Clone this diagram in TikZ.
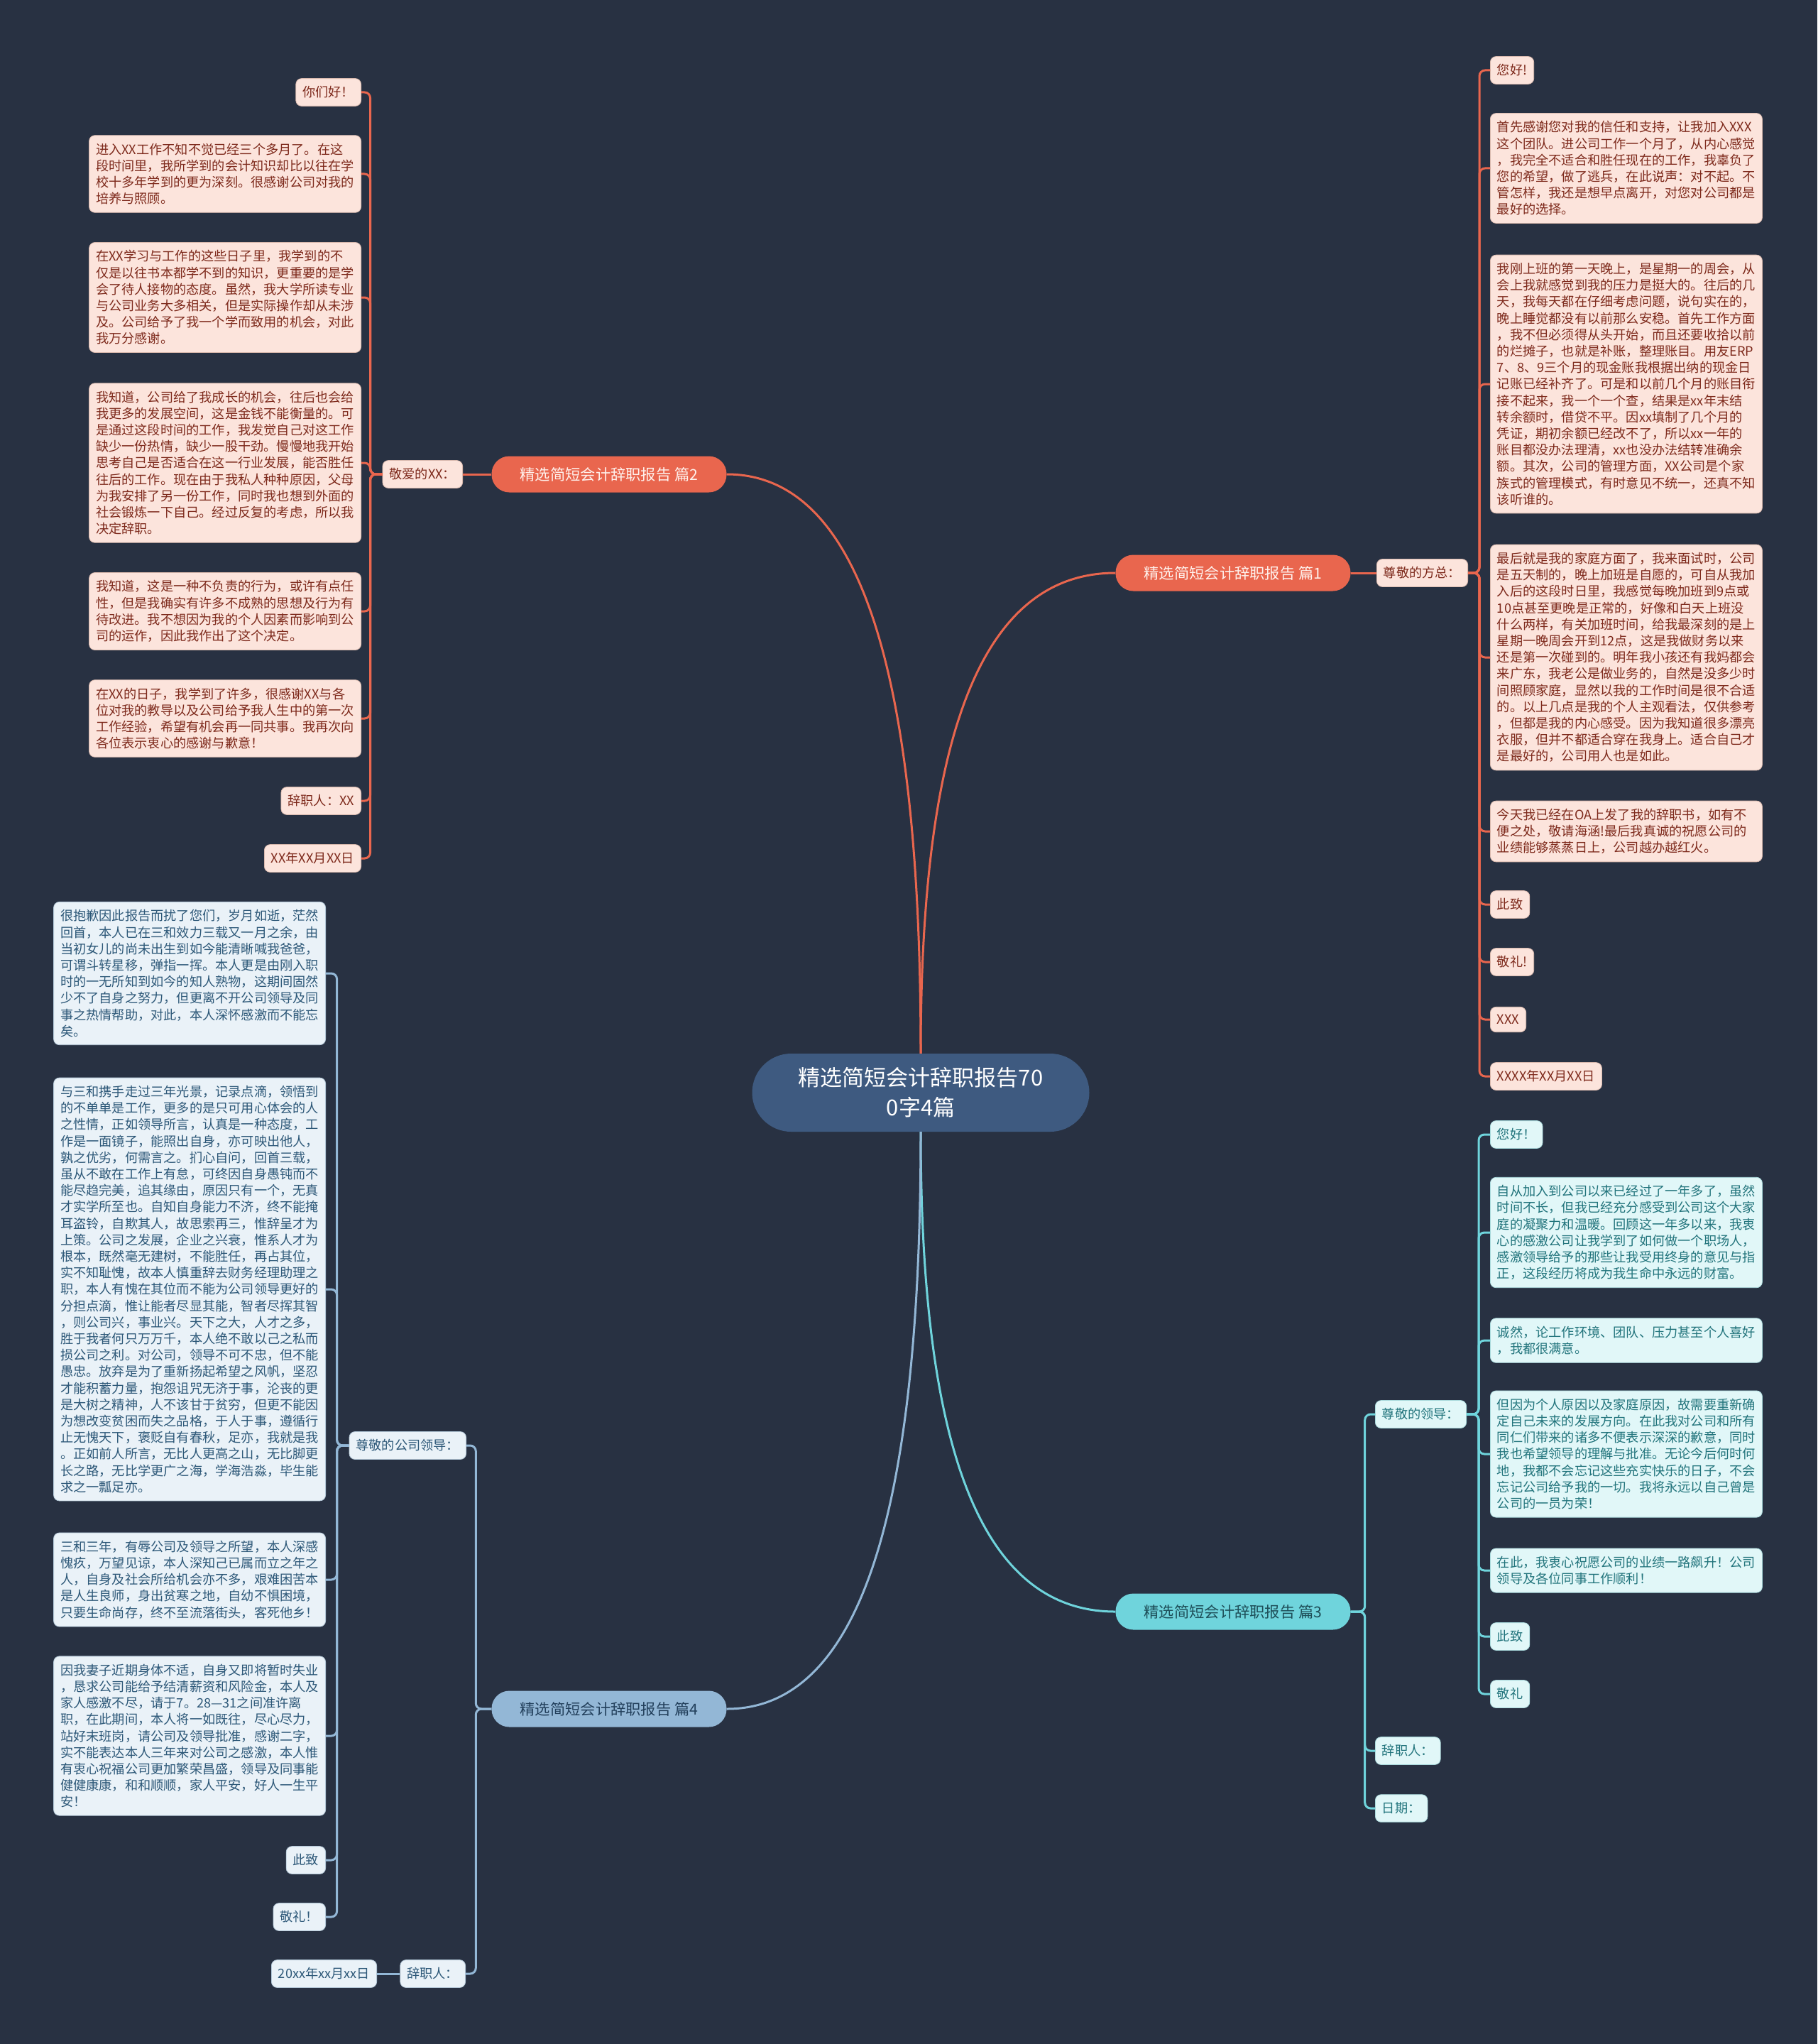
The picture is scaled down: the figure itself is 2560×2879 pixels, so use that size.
\documentclass[tikz,border=0pt]{standalone}
\usepackage{fontspec}
\newfontfamily\cjk{Noto Sans CJK SC}
\usetikzlibrary{calc}
\definecolor{bgc}{HTML}{283142}
\definecolor{rootc}{HTML}{3E5A80}
\definecolor{redc}{HTML}{E9664E}
\definecolor{redtop}{HTML}{FFF1EC}
\definecolor{redleaf}{HTML}{FCE4DC}
\definecolor{redtext}{HTML}{7E2A1C}
\definecolor{redline}{HTML}{D9B9AE}
\definecolor{cyanc}{HTML}{6FD4DC}
\definecolor{cyantop}{HTML}{1E4E58}
\definecolor{cyanleaf}{HTML}{E1F7F8}
\definecolor{cyantext}{HTML}{22747C}
\definecolor{cyanline}{HTML}{A9D9DC}
\definecolor{bluec}{HTML}{93B7D6}
\definecolor{bluetop}{HTML}{23405C}
\definecolor{blueleaf}{HTML}{EAF2F8}
\definecolor{bluetext}{HTML}{2D5878}
\definecolor{blueline}{HTML}{B4C8D8}
\newcommand{\leaffont}{\cjk\fontsize{18.2}{23.2}\selectfont}

\begin{document}
\begin{tikzpicture}[x=1pt, y=-1pt,
  root/.style={fill=rootc, text=white, rounded corners=55pt, minimum width=475pt, minimum height=110pt, align=center, font=\cjk\fontsize{31}{42}\selectfont},
  topic/.style={fill=#1c, text=#1top, rounded corners=25pt, minimum width=331pt, minimum height=51pt, font=\cjk\fontsize{21.3}{26}\selectfont},
  leaf/.style={fill=#1leaf, text=#1text, draw=#1line, line width=0.8pt, rounded corners=8pt, inner xsep=9.5pt, inner ysep=11pt, font=\leaffont},
  para/.style={leaf=#1, text width=364pt, align=left},
  link/.style={draw=#1c, line width=3pt, rounded corners=8pt}]
\fill[bgc] (0,0) rectangle (2560,2879);

\node[root] (root) at (1297,1539) {精选简短会计辞职报告70\\0字4篇};
\node[topic=red] (b2) at (858,668) {精选简短会计辞职报告 篇2};
\node[topic=red] (b1) at (1737,807) {精选简短会计辞职报告 篇1};
\node[topic=cyan] (b3) at (1737,2270) {精选简短会计辞职报告 篇3};
\node[topic=blue] (b4) at (858,2407) {精选简短会计辞职报告 篇4};
\draw[link=red] (root.north) .. controls +(0,-500) and +(200,0) .. (b2.east);
\draw[link=red] (root.north) .. controls +(0,-420) and +(-200,0) .. (b1.west);
\draw[link=cyan] (root.south) .. controls +(0,420) and +(-200,0) .. (b3.west);
\draw[link=blue] (root.south) .. controls +(0,500) and +(200,0) .. (b4.east);

% 篇2
\node[leaf=red, anchor=east] (b2x) at (652,668) {敬爱的XX：};
\draw[link=red] (b2.west) -- (b2x.east);
\node[leaf=red, anchor=east] (b2a) at (509,130) {你们好！};
\node[para=red, anchor=east] (b2b) at (509,245) {进入XX工作不知不觉已经三个多月了。在这\\段时间里，我所学到的会计知识却比以往在学\\校十多年学到的更为深刻。很感谢公司对我的\\培养与照顾。};
\node[para=red, anchor=east] (b2c) at (509,419) {在XX学习与工作的这些日子里，我学到的不\\仅是以往书本都学不到的知识，更重要的是学\\会了待人接物的态度。虽然，我大学所读专业\\与公司业务大多相关，但是实际操作却从未涉\\及。公司给予了我一个学而致用的机会，对此\\我万分感谢。};
\node[para=red, anchor=east] (b2d) at (509,652) {我知道，公司给了我成长的机会，往后也会给\\我更多的发展空间，这是金钱不能衡量的。可\\是通过这段时间的工作，我发觉自己对这工作\\缺少一份热情，缺少一股干劲。慢慢地我开始\\思考自己是否适合在这一行业发展，能否胜任\\往后的工作。现在由于我私人种种原因，父母\\为我安排了另一份工作，同时我也想到外面的\\社会锻炼一下自己。经过反复的考虑，所以我\\决定辞职。};
\node[para=red, anchor=east] (b2e) at (509,861) {我知道，这是一种不负责的行为，或许有点任\\性，但是我确实有许多不成熟的思想及行为有\\待改进。我不想因为我的个人因素而影响到公\\司的运作，因此我作出了这个决定。};
\node[para=red, anchor=east] (b2f) at (509,1012) {在XX的日子，我学到了许多，很感谢XX与各\\位对我的教导以及公司给予我人生中的第一次\\工作经验，希望有机会再一同共事。我再次向\\各位表示衷心的感谢与歉意！};
\node[leaf=red, anchor=east] (b2g) at (509,1128) {辞职人：XX};
\node[leaf=red, anchor=east] (b2h) at (509,1209) {XX年XX月XX日};
\foreach \n in {a,...,h} \draw[link=red] (b2x.west) -- ++(-17,0) |- (b2\n.east);

% 篇1
\node[leaf=red, anchor=west] (b1x) at (1939,807) {尊敬的方总：};
\draw[link=red] (b1.east) -- (b1x.west);
\node[leaf=red, anchor=west] (b1a) at (2099,99) {您好!};
\node[para=red, anchor=west] (b1b) at (2099,237) {首先感谢您对我的信任和支持，让我加入XXX\\这个团队。进公司工作一个月了，从内心感觉\\，我完全不适合和胜任现在的工作，我辜负了\\您的希望，做了逃兵，在此说声：对不起。不\\管怎样，我还是想早点离开，对您对公司都是\\最好的选择。};
\node[para=red, anchor=west] (b1c) at (2099,541) {我刚上班的第一天晚上，是星期一的周会，从\\会上我就感觉到我的压力是挺大的。往后的几\\天，我每天都在仔细考虑问题，说句实在的，\\晚上睡觉都没有以前那么安稳。首先工作方面\\，我不但必须得从头开始，而且还要收拾以前\\的烂摊子，也就是补账，整理账目。用友ERP\\7、8、9三个月的现金账我根据出纳的现金日\\记账已经补齐了。可是和以前几个月的账目衔\\接不起来，我一个一个查，结果是xx年末结\\转余额时，借贷不平。因xx填制了几个月的\\凭证，期初余额已经改不了，所以xx一年的\\账目都没办法理清，xx也没办法结转准确余\\额。其次，公司的管理方面，XX公司是个家\\族式的管理模式，有时意见不统一，还真不知\\该听谁的。};
\node[para=red, anchor=west] (b1d) at (2099,926) {最后就是我的家庭方面了，我来面试时，公司\\是五天制的，晚上加班是自愿的，可自从我加\\入后的这段时日里，我感觉每晚加班到9点或\\10点甚至更晚是正常的，好像和白天上班没\\什么两样，有关加班时间，给我最深刻的是上\\星期一晚周会开到12点，这是我做财务以来\\还是第一次碰到的。明年我小孩还有我妈都会\\来广东，我老公是做业务的，自然是没多少时\\间照顾家庭，显然以我的工作时间是很不合适\\的。以上几点是我的个人主观看法，仅供参考\\，但都是我的内心感受。因为我知道很多漂亮\\衣服，但并不都适合穿在我身上。适合自己才\\是最好的，公司用人也是如此。};
\node[para=red, anchor=west] (b1e) at (2099,1171) {今天我已经在OA上发了我的辞职书，如有不\\便之处，敬请海涵!最后我真诚的祝愿公司的\\业绩能够蒸蒸日上，公司越办越红火。};
\node[leaf=red, anchor=west] (b1f) at (2099,1274) {此致};
\node[leaf=red, anchor=west] (b1g) at (2099,1355) {敬礼!};
\node[leaf=red, anchor=west] (b1h) at (2099,1436) {XXX};
\node[leaf=red, anchor=west] (b1i) at (2099,1516) {XXXX年XX月XX日};
\foreach \n in {a,...,i} \draw[link=red] (b1x.east) -- ++(16,0) |- (b1\n.west);

% 篇3
\node[leaf=cyan, anchor=west] (b3x) at (1937,1992) {尊敬的领导：};
\node[leaf=cyan, anchor=west] (b3y) at (1937,2466) {辞职人：};
\node[leaf=cyan, anchor=west] (b3z) at (1937,2547) {日期：};
\foreach \n in {x,y,z} \draw[link=cyan] (b3.east) -- ++(20,0) |- (b3\n.west);
\node[leaf=cyan, anchor=west] (b3a) at (2099,1598) {您好！};
\node[para=cyan, anchor=west] (b3b) at (2099,1736) {自从加入到公司以来已经过了一年多了，虽然\\时间不长，但我已经充分感受到公司这个大家\\庭的凝聚力和温暖。回顾这一年多以来，我衷\\心的感激公司让我学到了如何做一个职场人，\\感激领导给予的那些让我受用终身的意见与指\\正，这段经历将成为我生命中永远的财富。};
\node[para=cyan, anchor=west] (b3c) at (2099,1888) {诚然，论工作环境、团队、压力甚至个人喜好\\，我都很满意。};
\node[para=cyan, anchor=west] (b3d) at (2099,2048) {但因为个人原因以及家庭原因，故需要重新确\\定自己未来的发展方向。在此我对公司和所有\\同仁们带来的诸多不便表示深深的歉意，同时\\我也希望领导的理解与批准。无论今后何时何\\地，我都不会忘记这些充实快乐的日子，不会\\忘记公司给予我的一切。我将永远以自己曾是\\公司的一员为荣！};
\node[para=cyan, anchor=west] (b3e) at (2099,2212) {在此，我衷心祝愿公司的业绩一路飙升！公司\\领导及各位同事工作顺利！};
\node[leaf=cyan, anchor=west] (b3f) at (2099,2305) {此致};
\node[leaf=cyan, anchor=west] (b3g) at (2099,2386) {敬礼};
\foreach \n in {a,...,g} \draw[link=cyan] (b3x.east) -- ++(17,0) |- (b3\n.west);

% 篇4
\node[leaf=blue, anchor=east] (b4x) at (657,2036) {尊敬的公司领导：};
\node[leaf=blue, anchor=east] (b4y) at (656,2780) {辞职人：};
\foreach \n in {x,y} \draw[link=blue] (b4.west) -- ++(-22,0) |- (b4\n.east);
\node[leaf=blue, anchor=east] (b4z) at (531,2780) {20xx年xx月xx日};
\draw[link=blue] (b4y.west) -- (b4z.east);
\node[para=blue, anchor=east] (b4a) at (459,1371) {很抱歉因此报告而扰了您们，岁月如逝，茫然\\回首，本人已在三和效力三载又一月之余，由\\当初女儿的尚未出生到如今能清晰喊我爸爸，\\可谓斗转星移，弹指一挥。本人更是由刚入职\\时的一无所知到如今的知人熟物，这期间固然\\少不了自身之努力，但更离不开公司领导及同\\事之热情帮助，对此，本人深怀感激而不能忘\\矣。};
\node[para=blue, anchor=east] (b4b) at (459,1816) {与三和携手走过三年光景，记录点滴，领悟到\\的不单单是工作，更多的是只可用心体会的人\\之性情，正如领导所言，认真是一种态度，工\\作是一面镜子，能照出自身，亦可映出他人，\\孰之优劣，何需言之。扪心自问，回首三载，\\虽从不敢在工作上有怠，可终因自身愚钝而不\\能尽趋完美，追其缘由，原因只有一个，无真\\才实学所至也。自知自身能力不济，终不能掩\\耳盗铃，自欺其人，故思索再三，惟辞呈才为\\上策。公司之发展，企业之兴衰，惟系人才为\\根本，既然毫无建树，不能胜任，再占其位，\\实不知耻愧，故本人慎重辞去财务经理助理之\\职，本人有愧在其位而不能为公司领导更好的\\分担点滴，惟让能者尽显其能，智者尽挥其智\\，则公司兴，事业兴。天下之大，人才之多，\\胜于我者何只万万千，本人绝不敢以己之私而\\损公司之利。对公司，领导不可不忠，但不能\\愚忠。放弃是为了重新扬起希望之风帆，坚忍\\才能积蓄力量，抱怨诅咒无济于事，沦丧的更\\是大树之精神，人不该甘于贫穷，但更不能因\\为想改变贫困而失之品格，于人于事，遵循行\\止无愧天下，褒贬自有春秋，足亦，我就是我\\。正如前人所言，无比人更高之山，无比脚更\\长之路，无比学更广之海，学海浩淼，毕生能\\求之一瓢足亦。};
\node[para=blue, anchor=east] (b4c) at (459,2225) {三和三年，有辱公司及领导之所望，本人深感\\愧疚，万望见谅，本人深知己已属而立之年之\\人，自身及社会所给机会亦不多，艰难困苦本\\是人生良师，身出贫寒之地，自幼不惧困境，\\只要生命尚存，终不至流落街头，客死他乡！};
\node[para=blue, anchor=east] (b4d) at (459,2445) {因我妻子近期身体不适，自身又即将暂时失业\\，恳求公司能给予结清薪资和风险金，本人及\\家人感激不尽，请于7。28—31之间准许离\\职，在此期间，本人将一如既往，尽心尽力，\\站好末班岗，请公司及领导批准，感谢二字，\\实不能表达本人三年来对公司之感激，本人惟\\有衷心祝福公司更加繁荣昌盛，领导及同事能\\健健康康，和和顺顺，家人平安，好人一生平\\安！};
\node[leaf=blue, anchor=east] (b4e) at (459,2620) {此致};
\node[leaf=blue, anchor=east] (b4f) at (459,2700) {敬礼！};
\foreach \n in {a,...,f} \draw[link=blue] (b4x.west) -- ++(-17,0) |- (b4\n.east);
\end{tikzpicture}
\end{document}
